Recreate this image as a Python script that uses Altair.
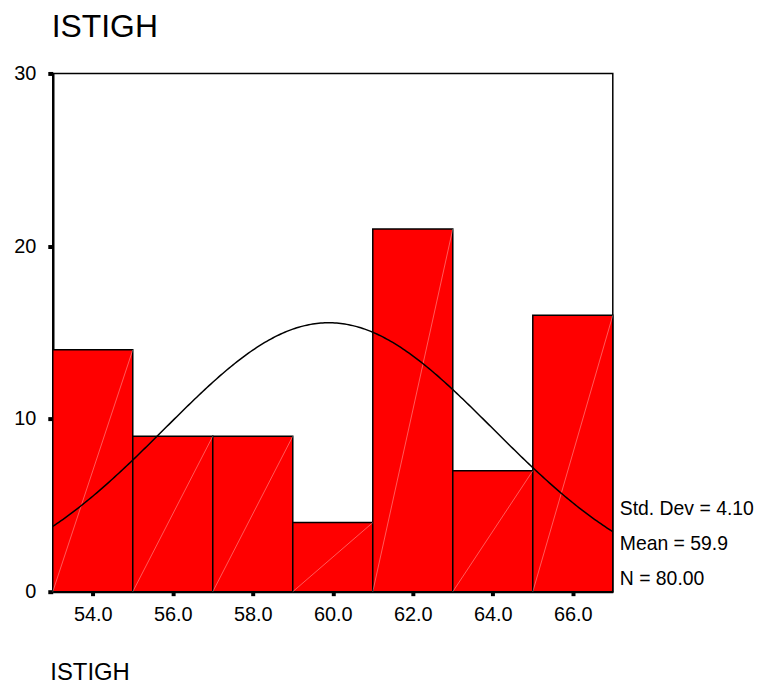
import altair as alt
import pandas as pd

# ---- data ----
bin_centers = [54.0, 56.0, 58.0, 60.0, 62.0, 64.0, 66.0]
counts = [14, 9, 9, 4, 21, 7, 16]
bin_width = 2.0
std_dev = 4.10
mean_val = 59.9
n_total = 80
x_ticks = [54.0, 56.0, 58.0, 60.0, 62.0, 64.0, 66.0]
y_ticks = [0, 10, 20, 30]
stats_labels = ["Std. Dev = 4.10", "Mean = 59.9", "N = 80.00"]
var_name = "ISTIGH"

W, H = 563, 521
FONT = "Liberation Sans"

bars_df = pd.DataFrame({
    "start": [c - bin_width / 2 for c in bin_centers],
    "end": [c + bin_width / 2 for c in bin_centers],
    "count": counts,
    "base": [0] * len(counts),
})

xscale = alt.Scale(domain=[53, 67], nice=False, zero=False)
yscale = alt.Scale(domain=[0, 30], nice=False)

x_axis = alt.Axis(
    values=x_ticks, format=".1f", grid=False, domain=True, domainWidth=2,
    domainColor="black", tickSize=4, tickWidth=4, tickColor="black",
    labelFontSize=20, labelPadding=9, labelColor="black", labelFont=FONT,
    title=var_name, titleFontSize=24, titleFontWeight="normal", titleFont=FONT,
    titleColor="black", titleAnchor="start", titleAlign="left",
    titleBaseline="alphabetic", titleX=-3, titleY=88,
)
y_axis = alt.Axis(
    values=y_ticks, grid=False, domain=True, domainWidth=2.5,
    domainColor="black", tickSize=5, tickWidth=4, tickColor="black",
    labelFontSize=20, labelPadding=12, labelColor="black", labelFont=FONT,
    title=None,
)

bars = alt.Chart(bars_df).mark_rect(
    fill="#FF0000", stroke="black", strokeWidth=1.5
).encode(
    x=alt.X("start:Q", scale=xscale, axis=x_axis),
    x2="end:Q",
    y=alt.Y("count:Q", scale=yscale, axis=y_axis),
    y2="base:Q",
)

diag = alt.Chart(bars_df).mark_rule(
    color="white", strokeWidth=0.6, opacity=0.6
).encode(
    x=alt.X("start:Q", scale=xscale),
    x2="end:Q",
    y=alt.Y("base:Q", scale=yscale),
    y2="count:Q",
)

curve = alt.Chart(alt.sequence(53, 67.001, 0.05, as_="v")).transform_calculate(
    dens=f"{n_total * bin_width}/({std_dev}*sqrt(2*PI))*exp(-0.5*pow((datum.v-{mean_val})/{std_dev},2))"
).mark_line(color="black", strokeWidth=1.5).encode(
    x=alt.X("v:Q", scale=xscale),
    y=alt.Y("dens:Q", scale=yscale),
)

texts = []
for i, lab in enumerate(stats_labels):
    texts.append(
        alt.Chart(pd.DataFrame({"t": [lab]})).mark_text(
            align="left", baseline="middle", fontSize=19.5, font=FONT, color="black"
        ).encode(text="t:N", x=alt.value(W + 7), y=alt.value(438 + i * 35))
    )

chart = alt.layer(bars, diag, curve, *texts).properties(
    width=W, height=H,
    title=alt.TitleParams(
        var_name, anchor="start", frame="group", fontSize=32, font=FONT,
        fontWeight="normal", color="black", offset=20, dx=-1,
    ),
    autosize=alt.AutoSizeParams(type="none"),
    padding={"left": 45, "top": 64, "right": 150, "bottom": 92},
).configure(background="white").configure_view(stroke="black", strokeWidth=1.5)

chart.save("out.html", embed_options={"renderer": "svg", "actions": False})
